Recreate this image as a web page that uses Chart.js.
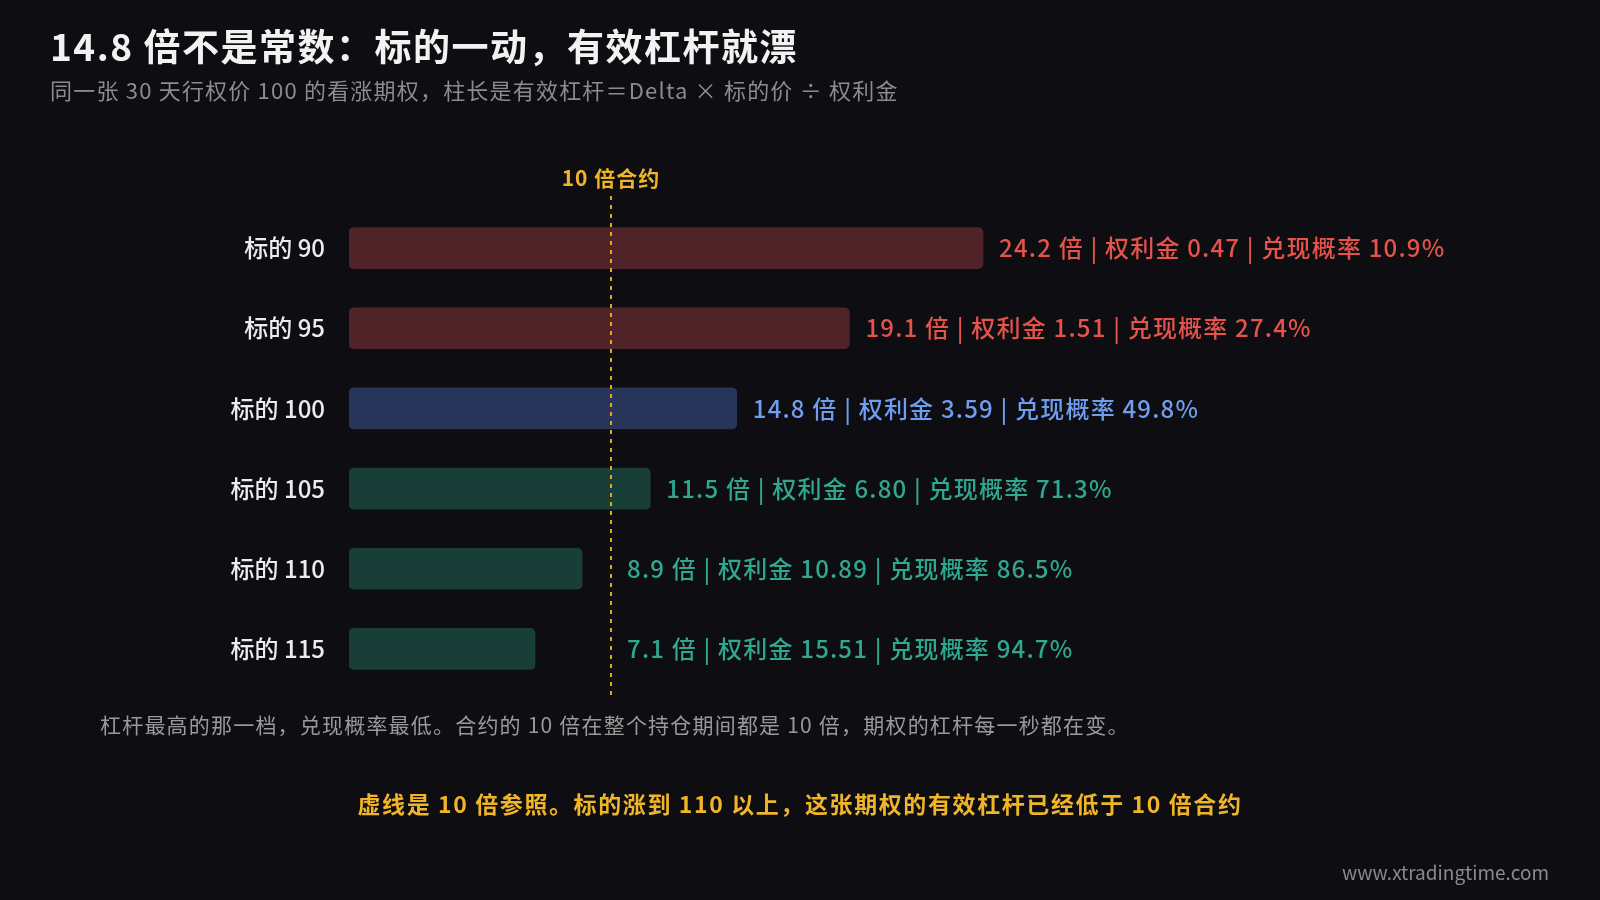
<!DOCTYPE html>
<html>
<head>
<meta charset="utf-8">
<script src="https://cdn.jsdelivr.net/npm/chart.js@4/dist/chart.umd.min.js"></script>
<style>
  html, body { margin: 0; background: #0d0d12; font-family: "Noto Sans CJK SC", "Noto Sans", sans-serif; }
  .wrap { position: relative; width: 1600px; height: 900px; }
  canvas { position: absolute; left: 0; top: 0; }
  .t { position: absolute; white-space: nowrap; }
</style>
</head>
<body>
<div class="wrap">
  <canvas id="c" width="1600" height="900"></canvas>
  <div class="t" style="left:50px;top:18px;font-size:37px;font-weight:700;color:#f2f2f2;letter-spacing:1.5px;">14.8 倍不是常数：标的一动，有效杠杆就漂</div>
  <div class="t" style="left:50px;top:73px;font-size:22px;color:#8c8c8c;letter-spacing:1.2px;">同一张 30 天行权价 100 的看涨期权，柱长是有效杠杆＝Delta × 标的价 ÷ 权利金</div>
  <div class="t" style="left:100px;top:709px;font-size:21px;color:#9a9a9a;letter-spacing:1.2px;">杠杆最高的那一档，兑现概率最低。合约的 10 倍在整个持仓期间都是 10 倍，期权的杠杆每一秒都在变。</div>
  <div class="t" style="left:0;width:1600px;text-align:center;top:786px;font-size:23px;font-weight:700;color:#f0b429;letter-spacing:1.6px;">虚线是 10 倍参照。标的涨到 110 以上，这张期权的有效杠杆已经低于 10 倍合约</div>
  <div class="t" style="right:51px;top:858px;font-size:19px;color:#8a8a8a;">www.xtradingtime.com</div>
</div>
<script>
// Data
const labels = ["标的 90", "标的 95", "标的 100", "标的 105", "标的 110", "标的 115"];
const leverage = [24.2, 19.1, 14.8, 11.5, 8.9, 7.1];
const premium = ["0.47", "1.51", "3.59", "6.80", "10.89", "15.51"];
const probability = ["10.9%", "27.4%", "49.8%", "71.3%", "86.5%", "94.7%"];
const barColors = ["#4f2327", "#4f2327", "#263559", "#193d37", "#193d37", "#193d37"];
const textColors = ["#e5534b", "#e5534b", "#6f9ef0", "#2fa88f", "#2fa88f", "#2fa88f"];
const refLine = 10;

const overlay = {
  id: "overlay",
  afterDatasetsDraw(chart) {
    const { ctx, scales } = chart;
    const lx = scales.x.getPixelForValue(refLine);
    ctx.save();
    ctx.strokeStyle = "#e0a81a";
    ctx.lineWidth = 2;
    ctx.setLineDash([4, 5]);
    ctx.beginPath();
    ctx.moveTo(lx, 196);
    ctx.lineTo(lx, 700);
    ctx.stroke();
    ctx.setLineDash([]);
    ctx.fillStyle = "#f0b429";
    ctx.font = "700 21px 'Noto Sans CJK SC'";
    ctx.letterSpacing = "1px";
    ctx.textAlign = "center";
    ctx.textBaseline = "middle";
    ctx.fillText(refLine + " 倍合约", lx, 178);

    ctx.font = "500 24px 'Noto Sans CJK SC'";
    ctx.letterSpacing = "1.2px";
    ctx.textAlign = "left";
    chart.getDatasetMeta(0).data.forEach((bar, i) => {
      let x = bar.x + 16;
      if (x < lx + 16) x = lx + 16;
      ctx.fillStyle = textColors[i];
      ctx.fillText(leverage[i] + " 倍 | 权利金 " + premium[i] + " | 兑现概率 " + probability[i], x, bar.y);
    });
    ctx.restore();
  }
};

new Chart(document.getElementById("c"), {
  type: "bar",
  data: {
    labels: labels,
    datasets: [{
      data: leverage,
      backgroundColor: barColors,
      borderRadius: 5,
      borderSkipped: false,
      barThickness: 41
    }]
  },
  options: {
    indexAxis: "y",
    responsive: false,
    animation: false,
    layout: { padding: { left: 0, right: 72, top: 208, bottom: 211 } },
    plugins: { legend: { display: false }, tooltip: { enabled: false } },
    scales: {
      x: { min: 0, max: 45, display: false },
      y: {
        afterFit(scale) { scale.width = 349; },
        grid: { display: false },
        border: { display: false },
        ticks: { color: "#ececec", padding: 16, font: { size: 24, weight: "500", family: "Noto Sans CJK SC" } }
      }
    }
  },
  plugins: [overlay]
});
</script>
</body>
</html>
